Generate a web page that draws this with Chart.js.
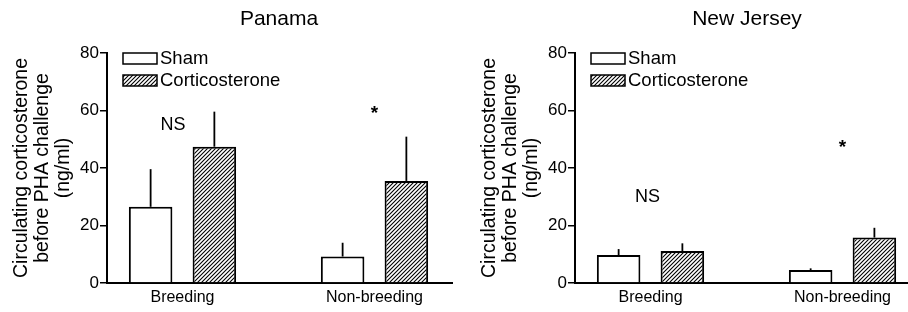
<!DOCTYPE html>
<html>
<head>
<meta charset="utf-8">
<script src="https://cdn.jsdelivr.net/npm/chart.js@4.4.0/dist/chart.umd.min.js"></script>
<style>
  html, body { margin: 0; padding: 0; background: #fff; }
  #wrap { position: relative; width: 908px; height: 312px; overflow: hidden; }
  #panama { position: absolute; left: 0; top: 0; }
  #newjersey { position: absolute; left: 468px; top: 0; }
</style>
</head>
<body>
<div id="wrap">
  <canvas id="panama" width="468" height="312"></canvas>
  <canvas id="newjersey" width="440" height="312"></canvas>
</div>
<script>
// Data
const categories = ['Breeding', 'Non-breeding'];
const seriesNames = ['Sham', 'Corticosterone'];
const yTicks = [0, 20, 40, 60, 80];
const yTitle = ['Circulating corticosterone', 'before PHA challenge', '(ng/ml)'];

const panamaSham = [26.5, 9.2];
const panamaShamErr = [13.1, 4.8];
const panamaCort = [47.4, 35.5];
const panamaCortErr = [12.2, 15.4];

const njSham = [9.7, 4.5];
const njShamErr = [2.1, 0.6];
const njCort = [11.1, 15.8];
const njCortErr = [2.7, 3.4];

const FONT = '"Liberation Sans", Arial, sans-serif';
Chart.defaults.font.family = FONT;
Chart.defaults.color = '#000';

function makeHatch(ctx) {
  const c = document.createElement('canvas');
  c.width = 4; c.height = 4;
  const g = c.getContext('2d');
  g.fillStyle = '#fff';
  g.fillRect(0, 0, 4, 4);
  g.strokeStyle = '#000';
  g.lineWidth = 1.1;
  g.beginPath();
  g.moveTo(0, 4); g.lineTo(4, 0);
  g.moveTo(-1, 1); g.lineTo(1, -1);
  g.moveTo(3, 5); g.lineTo(5, 3);
  g.stroke();
  return ctx.createPattern(c, 'repeat');
}

// error bars: upward line only, no cap
const errorBars = {
  id: 'errorBars',
  afterDatasetsDraw(chart) {
    const ctx = chart.ctx;
    const y = chart.scales.y;
    chart.data.datasets.forEach((ds, i) => {
      const meta = chart.getDatasetMeta(i);
      meta.data.forEach((bar, j) => {
        const top = y.getPixelForValue(ds.data[j].y + ds.errors[j]);
        ctx.save();
        ctx.strokeStyle = '#000';
        ctx.lineWidth = 1.8;
        ctx.beginPath();
        ctx.moveTo(bar.x, bar.y);
        ctx.lineTo(bar.x, top);
        ctx.stroke();
        ctx.restore();
      });
    });
  }
};

// panel title, inner legend and significance marks
const extras = {
  id: 'extras',
  afterDraw(chart, args, opts) {
    const {ctx, chartArea, scales} = chart;
    ctx.save();
    ctx.fillStyle = '#000';
    ctx.textBaseline = 'middle';
    ctx.textAlign = 'center';
    ctx.font = '21px ' + FONT;
    ctx.fillText(opts.title, chartArea.left + 172, 19);

    const lx = chartArea.left + 16;
    chart.data.datasets.forEach((ds, i) => {
      const ly = chartArea.top + i * 22;
      ctx.fillStyle = ds.backgroundColor;
      ctx.fillRect(lx, ly, 34, 11);
      ctx.strokeStyle = '#000';
      ctx.lineWidth = 1.5;
      ctx.strokeRect(lx, ly, 34, 11);
      ctx.fillStyle = '#000';
      ctx.textAlign = 'left';
      ctx.font = '18.5px ' + FONT;
      ctx.fillText(ds.label, lx + 37, ly + 6);
    });

    ctx.textAlign = 'center';
    opts.marks.forEach(m => {
      ctx.font = (m.text === '*' ? 'bold 19px ' : '18px ') + FONT;
      ctx.fillText(m.text, scales.x.getPixelForValue(m.x), scales.y.getPixelForValue(m.y));
    });
    ctx.restore();
  }
};

function makeChart(id, title, sham, shamErr, cort, cortErr, xMax, padRight, marks) {
  const canvas = document.getElementById(id);
  const ctx = canvas.getContext('2d');
  const common = {
    borderColor: '#000',
    borderWidth: 2,
    categoryPercentage: 0.664,
    barPercentage: 0.683
  };
  return new Chart(ctx, {
    type: 'bar',
    data: {
      datasets: [
        Object.assign({
          label: seriesNames[0],
          data: sham.map((v, i) => ({x: i + 1, y: v})),
          errors: shamErr,
          backgroundColor: '#fff'
        }, common),
        Object.assign({
          label: seriesNames[1],
          data: cort.map((v, i) => ({x: i + 1, y: v})),
          errors: cortErr,
          backgroundColor: makeHatch(ctx)
        }, common)
      ]
    },
    options: {
      responsive: false,
      animation: false,
      layout: { padding: { left: 0, top: 53, right: padRight, bottom: 0 } },
      plugins: {
        legend: { display: false },
        tooltip: { enabled: false },
        extras: { title: title, marks: marks }
      },
      scales: {
        x: {
          type: 'linear',
          offset: false,
          min: 0.6068,
          max: xMax,
          afterBuildTicks: s => { s.ticks = categories.map((c, i) => ({value: i + 1})); },
          afterFit: s => { s.height = 29; },
          ticks: {
            padding: 5,
            autoSkip: false,
            maxRotation: 0,
            font: { size: 16 },
            callback: v => categories[Math.round(v) - 1]
          },
          grid: { display: false, drawTicks: false },
          border: { display: true, color: '#000', width: 2 }
        },
        y: {
          min: 0,
          max: 80,
          afterBuildTicks: s => { s.ticks = yTicks.map(v => ({value: v})); },
          afterFit: s => { s.width = 107; },
          ticks: { padding: 1, font: { size: 17 } },
          grid: { drawOnChartArea: false, drawTicks: true, tickLength: 7, color: '#000', lineWidth: 1.5 },
          border: { display: true, color: '#000', width: 2 },
          title: {
            display: true,
            text: yTitle,
            font: { size: 19.5, lineHeight: 1.08 },
            padding: { top: 11, bottom: 0 }
          }
        }
      }
    },
    plugins: [errorBars, extras]
  });
}

makeChart('panama', 'Panama', panamaSham, panamaShamErr, panamaCort, panamaCortErr,
  2.4037, 16, [{text: 'NS', x: 0.95, y: 55}, {text: '*', x: 2.0, y: 59}]);
makeChart('newjersey', 'New Jersey', njSham, njShamErr, njCort, njCortErr,
  2.341, 0, [{text: 'NS', x: 0.985, y: 30}, {text: '*', x: 2.0, y: 47}]);
</script>
</body>
</html>
